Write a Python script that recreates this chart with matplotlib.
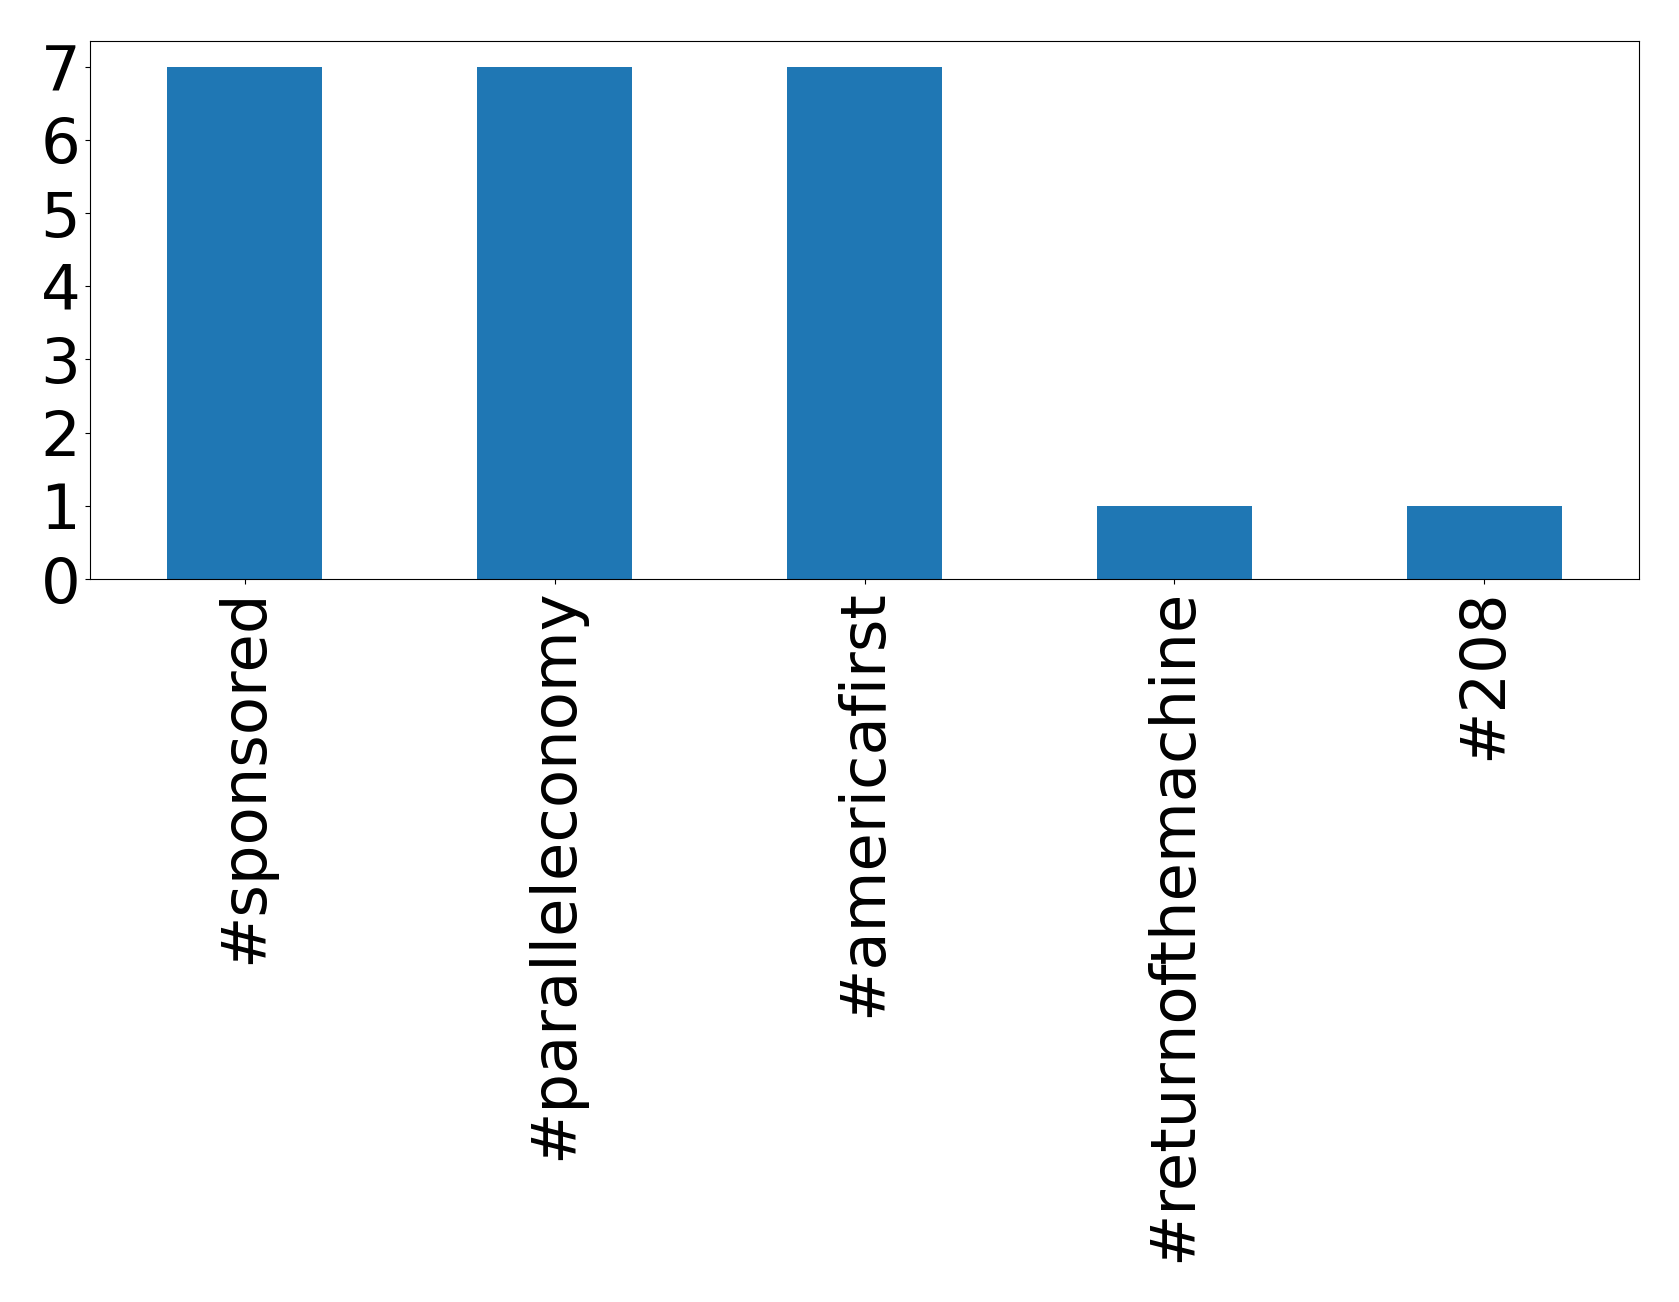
import matplotlib
matplotlib.use("Agg")
import matplotlib.pyplot as plt

categories = ["#sponsored", "#paralleleconomy", "#americafirst", "#returnofthemachine", "#208"]
counts = [7, 7, 7, 1, 1]

fig = plt.figure(figsize=(16.79, 13.02), dpi=100)
ax = fig.add_axes([90 / 1679, 1 - 579 / 1302, (1639 - 90) / 1679, (579 - 41) / 1302])
x = list(range(len(categories)))
ax.bar(x, counts, width=0.5, color="#1f77b4")
ax.set_xlim(-0.5, len(categories) - 0.5)
ax.set_ylim(0, 7.35)
ax.set_xticks(x)
ax.set_xticklabels(categories, rotation=90, fontsize=45)
ax.set_yticks(range(0, 8))
ax.tick_params(axis="y", labelsize=45)
fig.savefig("out.png", dpi=100)
